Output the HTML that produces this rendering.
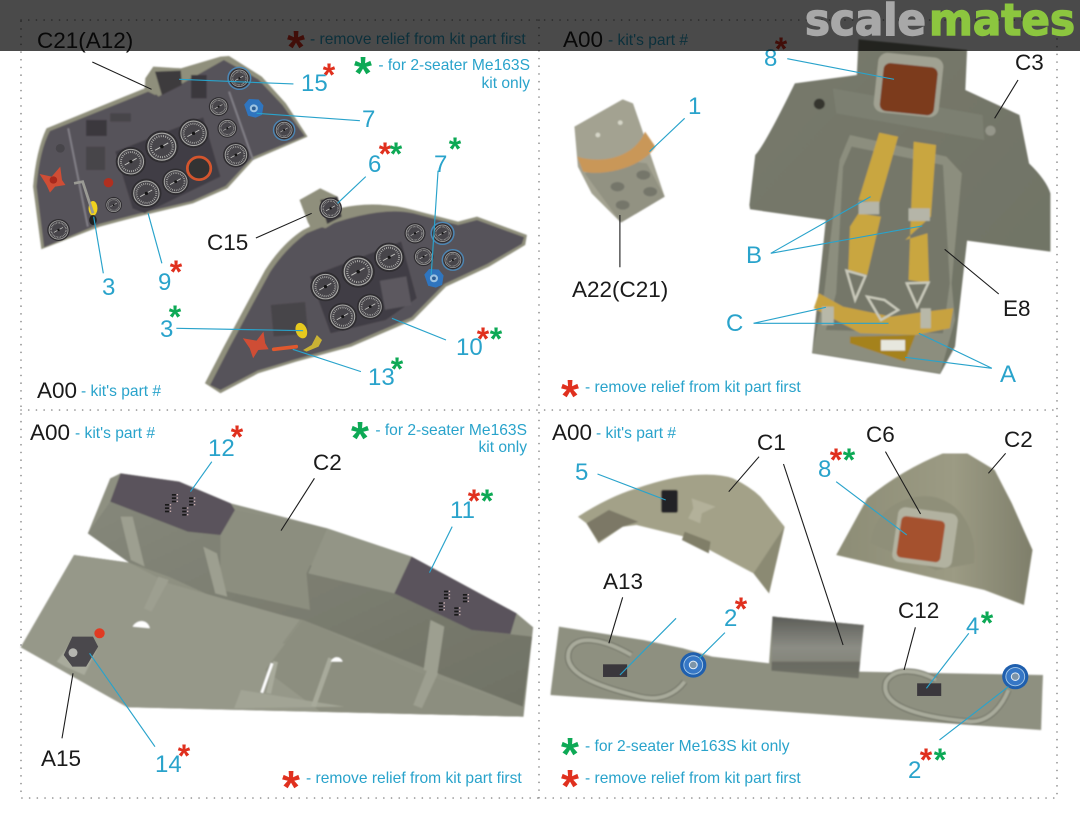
<!DOCTYPE html>
<html><head><meta charset="utf-8"><style>
html,body{margin:0;padding:0;background:#fff}
svg{display:block}
text{font-family:"Liberation Sans",sans-serif}
.k{font-size:22.5px;fill:#1a1a1a}
.b{font-size:24px;fill:#29a3cb}
.t{font-size:15.6px;fill:#29a3cb}
.r,.g,.R,.G{font-family:"Liberation Sans",sans-serif;font-weight:bold;text-anchor:middle}
.r{font-size:32px;fill:#e0301e}.g{font-size:32px;fill:#0da955}
.R{font-size:46px;fill:#e0301e}.G{font-size:46px;fill:#0da955}
.bl{stroke:#29a3cb;stroke-width:3.4;fill:none}
.bk{stroke:#1c1c1c;stroke-width:3.2;fill:none}
.d{stroke:#8a8a8a;stroke-width:1.6;stroke-dasharray:.1 7.6;stroke-linecap:round;fill:none}
</style></head><body>
<svg xmlns="http://www.w3.org/2000/svg" width="1080" height="819" viewBox="0 0 1080 819">
<defs>
<filter id="f" x="-5%" y="-5%" width="110%" height="110%"><feGaussianBlur stdDeviation="2.6"/></filter>
<linearGradient id="seat" x1="0" y1="0" x2="1" y2="1"><stop offset="0" stop-color="#77796b"/><stop offset="1" stop-color="#6f7264"/></linearGradient>
<linearGradient id="box" x1="0" y1="0" x2="0" y2="1"><stop offset="0" stop-color="#5c5d58"/><stop offset=".5" stop-color="#8c8d85"/><stop offset=".72" stop-color="#85867c"/><stop offset=".74" stop-color="#6a6b62"/><stop offset="1" stop-color="#6f7066"/></linearGradient>
<linearGradient id="dome" x1="0" y1="0" x2="1" y2="0"><stop offset="0" stop-color="#8d8d76"/><stop offset=".6" stop-color="#9c9b84"/><stop offset="1" stop-color="#7f7f6b"/></linearGradient>
<linearGradient id="side" x1="0" y1="0" x2="1" y2="1"><stop offset="0" stop-color="#85877a"/><stop offset="1" stop-color="#6f7164"/></linearGradient>
<g id="g"><circle r="1.1" fill="#2f2d31"/><circle r=".92" fill="#47454a" stroke="#a9a9a6" stroke-width=".08"/><circle r=".72" fill="none" stroke="#c2c2be" stroke-width=".14" stroke-dasharray=".05 .1"/><path d="M-.45 .25L.42 -.25" stroke="#c6c6c2" stroke-width=".07"/><circle r=".12" fill="#151515"/></g>
<g id="u"><circle r="1.1" fill="none" stroke="#4b87b6" stroke-width=".14"/><use href="#g" transform="scale(.9)"/></g>
<g id="knob"><path d="M-1 -.4L-.5 -1L.5 -.95L1 -.3L.85 .7L.2 1L-.6 .8Z" fill="#2f75bf"/><circle r=".42" fill="#9cc3e2"/><circle r=".2" fill="#2c5f96"/></g>
<g id="disc"><circle r="1" fill="#1f5fae"/><circle r=".72" fill="#3677c6" stroke="#a9cbe8" stroke-width=".07"/><circle r=".3" fill="#7d94a8" stroke="#e3edf5" stroke-width=".08"/></g>
<g id="sw"><rect x="-16" y="-13" width="12" height="5" fill="#191919"/><rect x="-16" y="-3" width="12" height="5" fill="#191919"/><rect x="-16" y="7" width="12" height="5" fill="#191919"/><rect x="-2" y="-13" width="4" height="4" fill="#cbb0b0"/><rect x="-2" y="-3" width="4" height="4" fill="#cbb0b0"/><rect x="-2" y="7" width="4" height="4" fill="#cbb0b0"/></g>
</defs>
<rect width="1080" height="819" fill="#fff"/>

<!-- Quadrant 1 -->
<g transform="scale(.3444 .3333)">
<g filter="url(#f)">
<path d="M120 748L96 560Q105 450 135 385L420 265L422 235L445 200L525 205L640 170L665 168L760 230L830 310L893 410L735 480L660 565L560 610L400 650L290 680Z" fill="#8f8f7b"/>
<path d="M128 742L106 560Q115 450 145 393L430 275L450 285L530 250L650 180L750 238L820 315L885 408L733 472L655 558L558 603L400 642L288 672Z" fill="#57525a"/>
<path d="M422 235L445 202L525 205L530 250L460 290L442 270Z" fill="#8f8f7c"/>
<path d="M450 215L525 212L528 255L470 285Z" fill="#3c3a3e"/>
<path d="M335 455L590 352L640 530L420 640L385 625Z" fill="#413e44"/>
<rect x="250" y="360" width="60" height="48" fill="#3a383d"/><rect x="250" y="440" width="55" height="70" fill="#47444a"/><rect x="555" y="225" width="45" height="70" fill="#3a383d"/><rect x="320" y="340" width="60" height="25" fill="#47444a"/>
<path d="M665 275L735 480M198 385L255 680" stroke="#85838a" stroke-width="5" fill="none"/>
</g>
<use href="#g" transform="translate(380 485) scale(40)"/><use href="#g" transform="translate(470 440) scale(44)"/><use href="#g" transform="translate(562 400) scale(40)"/><use href="#g" transform="translate(425 580) scale(40)"/><use href="#g" transform="translate(510 545) scale(36)"/><circle cx="578" cy="505" r="34" fill="#333" stroke="#d4552d" stroke-width="8"/><use href="#g" transform="translate(635 320) scale(26)"/><use href="#g" transform="translate(660 385) scale(26)"/><use href="#g" transform="translate(685 465) scale(34)"/><use href="#u" transform="translate(695 235) scale(30)"/><use href="#u" transform="translate(825 390) scale(28)"/><use href="#g" transform="translate(330 615) scale(22)"/><use href="#g" transform="translate(170 690) scale(30)"/><circle cx="175" cy="445" r="13" fill="#47454a"/>
<use href="#knob" transform="translate(737 325) scale(28)"/>
<path d="M115 522L150 530L175 500L180 540L190 555L160 560L145 578L135 555Z" fill="#cf4d35"/><circle cx="155" cy="540" r="11" fill="#a8291c"/>
<circle cx="315" cy="548" r="14" fill="#b03020"/><ellipse cx="270" cy="625" rx="13" ry="22" fill="#f0d21e"/><ellipse cx="270" cy="660" rx="11" ry="15" fill="#222"/>
<path d="M215 550L240 545L270 640" stroke="#9a9a94" stroke-width="8" fill="none"/>

<g filter="url(#f)">
<path d="M595 1150L650 1040L720 905L770 810Q820 730 880 690L900 680L870 600L930 565L985 625Q1090 600 1200 630L1330 665L1385 650L1530 705L1525 735L1420 800L1295 860L1200 960L1020 1040L860 1085L750 1120L640 1180Z" fill="#8f8f7b"/>
<path d="M610 1155L665 1045L735 910L785 815Q830 745 890 700Q1090 615 1200 640L1330 675L1385 660L1522 712L1515 732L1415 792L1290 852L1195 952L1016 1032L858 1078L748 1112L640 1170Z" fill="#57525a"/>
<path d="M870 600L930 565L980 590L1000 650L945 685L895 670Z" fill="#8f8f7c"/>
<path d="M930 600L980 590L992 650L950 672Z" fill="#3a383c"/>
<path d="M900 830L1165 725L1210 895L1120 960L960 1000Z" fill="#413e44"/>
<rect x="1110" y="835" width="78" height="88" fill="#5c585f" transform="rotate(-10 1150 880)"/>
<rect x="790" y="910" width="100" height="95" fill="#47444a" transform="rotate(-5 845 955)"/>
</g>
<use href="#g" transform="translate(945 860) scale(40)"/><use href="#g" transform="translate(1040 815) scale(44)"/><use href="#g" transform="translate(1130 772) scale(40)"/><use href="#g" transform="translate(995 950) scale(38)"/><use href="#g" transform="translate(1075 920) scale(35)"/><use href="#g" transform="translate(1205 700) scale(28)"/><use href="#u" transform="translate(1285 700) scale(30)"/><use href="#g" transform="translate(1230 770) scale(26)"/><use href="#u" transform="translate(1315 780) scale(28)"/><use href="#g" transform="translate(960 625) scale(30)"/>
<use href="#knob" transform="translate(1260 835) scale(28)"/>
<path d="M705 1015L745 1022L765 995L770 1030L780 1048L750 1050L735 1075L725 1045Z" fill="#cf4d35"/>
<ellipse cx="875" cy="992" rx="16" ry="24" fill="#e6c91e" transform="rotate(-20 875 992)"/>
<path d="M880 1050L905 1035L920 1005L935 1020L925 1040L890 1055Z" fill="#c9b234"/>
<path d="M795 1048L860 1040" stroke="#e0582e" stroke-width="11" stroke-linecap="round"/>

<path class="bk" d="M268 186L440 268M743 714L905 640"/>
<path class="bl" d="M520 238L852 252M745 340L1045 362M272 650L300 820M430 640L470 790M1062 530L980 610M1272 512L1252 825M512 985L880 992M1138 955L1295 1020M850 1048L1048 1115"/>
</g>

<!-- Quadrant 2 -->
<g transform="translate(540 0) scale(.3444 .3333)">
<g filter="url(#f)">
<path d="M100 380L240 298L270 310L300 400L362 590L235 668L150 580L110 500Z" fill="#a3a291"/>
<path d="M130 520L230 480L310 490L362 590L235 668Z" fill="#929282"/>
<path d="M108 470C170 490 270 480 305 395L335 440C300 500 190 530 125 515Z" fill="#c99758"/>
<ellipse cx="225" cy="560" rx="20" ry="14" fill="#75766a"/><ellipse cx="300" cy="525" rx="20" ry="14" fill="#75766a"/><ellipse cx="320" cy="575" rx="20" ry="14" fill="#75766a"/><ellipse cx="240" cy="615" rx="20" ry="14" fill="#75766a"/>
<circle cx="168" cy="405" r="7" fill="#d6d6c8"/><circle cx="233" cy="368" r="7" fill="#d6d6c8"/>

<path d="M608 615L625 465Q650 440 740 250L920 225L925 118L1240 150L1235 270L1392 345L1420 490Q1470 540 1482 580L1482 755L1240 722L1205 1040L1162 1122L790 1060L830 660L610 628Z" fill="url(#seat)"/>
<path d="M850 265L1285 345L1290 420L860 340Z" fill="#7c7f71"/>
<path d="M900 405L1180 470L1225 520L1195 850L1205 960L1162 1120L790 1058L825 880L870 480Z" fill="#8c8e7e"/>
<path d="M905 440L1170 495L1190 850L1170 1000L830 990L860 880L880 500Z" fill="#747769"/>
<rect x="975" y="165" width="190" height="180" rx="28" fill="#a0a192" transform="rotate(6 1070 255)"/>
<rect x="992" y="195" width="158" height="145" rx="20" fill="#7c3a1f" transform="rotate(6 1070 265)"/>
<circle cx="811" cy="312" r="16" fill="#35362f"/>
<circle cx="1308" cy="392" r="15" fill="#95968a"/>
<path d="M985 398L1040 410L985 610L925 600Z" fill="#c9a640"/>
<path d="M1085 425L1150 435L1135 650L1060 720L1125 700L1130 850L1070 840Z" fill="#c9a640"/>
<path d="M925 640L990 650L950 825L895 810L900 680Z" fill="#c9a640"/>
<path d="M890 812L945 828L915 900Z M1065 850L1128 848L1095 920Z" fill="none" stroke="#c9c9ba" stroke-width="7"/>
<rect x="925" y="605" width="60" height="38" fill="#b5b5a8"/><rect x="1070" y="625" width="62" height="38" fill="#b5b5a8"/>
<path d="M795 925L810 880L880 920L1020 950L1120 935L1200 925L1190 985L1090 1005L930 1000Z" fill="#c7a23f"/>
<path d="M900 1010L1090 1005L1060 1085L900 1030Z" fill="#a5821f"/>
<rect x="990" y="1020" width="70" height="32" fill="#e7e7de"/>
<path d="M950 890L1000 900L1040 930L990 960Z" fill="none" stroke="#c9c9ba" stroke-width="7"/>
<rect x="818" y="920" width="35" height="55" fill="#b8b8a8"/><rect x="1105" y="925" width="30" height="60" fill="#b8b8a8"/>
</g>
<path class="bk" d="M1388 240L1320 355M1175 748L1332 882M232 645L232 802"/>
<path class="bl" d="M718 176L1028 238M420 355L318 455M670 760L960 590M670 760L1110 678M620 970L830 922M620 970L1012 970M1312 1105L1100 1000M1312 1105L1060 1072"/>
</g>

<!-- Quadrant 3 -->
<g transform="translate(0 410) scale(.3444 .3333)">
<g filter="url(#f)">
<path d="M60 712L215 435L375 458L255 370L320 205L350 190L520 215L670 280L950 355L1195 440L1500 610L1548 652L1520 920L370 892Z" fill="#8e9081"/>
<path d="M255 370L320 275L640 375L1145 550L1370 660L1545 680L1518 890L1270 790L880 630L660 580L490 500L375 458Z" fill="url(#side)"/>
<path d="M640 375L680 300L950 355L890 490L900 600L640 540Z" fill="#8c8e7f"/>
<path d="M950 355L1195 440L1145 550L895 490Z" fill="#939586"/>
<path d="M60 712L215 435L375 458L490 520L870 630L820 700L1518 890L1520 920L370 892Z" fill="#969889"/>
<path d="M880 630L1210 785L1518 890L1520 920L930 905L770 780Z" fill="#8c8e7f"/>
<path d="M350 320L380 450L420 470L385 320ZM590 410L630 430L660 560L625 550ZM1250 630L1290 650L1270 790L1230 780ZM460 500L490 510L440 605L418 595ZM1240 780L1272 790L1225 895L1200 885Z" fill="#9d9f90"/>
<path d="M350 190L520 215L670 280L682 300L640 375L545 365L320 275Z" fill="#5a535c"/>
<path d="M1195 440L1500 610L1482 672L1370 660L1145 550Z" fill="#5a535c"/>
<path d="M700 840L1000 890L680 895Z" fill="#a2a495"/>
<path d="M800 755L780 850M960 745L910 890" stroke="#a8aa9b" stroke-width="14"/>
<path d="M790 760L760 848" stroke="#fff" stroke-width="8"/>
<path d="M385 650C400 625 430 630 435 655Z" fill="#fff"/><path d="M960 755C970 735 990 740 995 755Z" fill="#fff"/>
<path d="M165 755L220 680L280 720L245 795L190 770Z" fill="#a9ab9c"/>
</g>
<use href="#sw" transform="translate(515 265)"/><use href="#sw" transform="translate(495 295)"/><use href="#sw" transform="translate(565 275)"/><use href="#sw" transform="translate(545 305)"/>
<use href="#sw" transform="translate(1305 555)"/><use href="#sw" transform="translate(1290 590)"/><use href="#sw" transform="translate(1360 565)"/><use href="#sw" transform="translate(1335 605)"/>
<path d="M210 680L270 680L285 710L250 770L210 770L185 735Z" fill="#4a484c"/>
<circle cx="212" cy="728" r="13" fill="#b5b5b0"/><circle cx="289" cy="670" r="15" fill="#e03a22"/>
<path class="bk" d="M913 205L816 362M212 790L180 985"/>
<path class="bl" d="M615 155L553 245M1313 350L1247 488M260 730L450 1010"/>
</g>

<!-- Quadrant 4 -->
<g transform="translate(540 410) scale(.3444 .3333)">
<g filter="url(#f)">
<path d="M110 320Q200 260 280 235Q380 200 450 195Q520 190 560 205Q610 230 640 260L710 350L665 550L620 490L420 380L280 345L240 350L170 400L135 340Z" fill="#a3a188"/>
<path d="M620 490L710 350L665 550Z" fill="#8b8a73"/>
<path d="M200 300L285 335L240 350L170 395L135 340Z" fill="#7b7866"/>
<path d="M420 365L495 395L490 430L412 390Z" fill="#807e68"/>
<path d="M440 265L510 290L470 310L465 340L430 325L445 295Z" fill="#b3b19a"/>
<rect x="352" y="240" width="48" height="68" rx="6" fill="#232126"/>
<path d="M860 435L950 265Q1050 180 1170 130L1240 130L1320 180L1370 280L1430 420L1405 585L1290 540Z" fill="url(#dome)"/>
<path d="M960 400C970 290 1070 250 1140 260C1240 280 1270 390 1260 460L1150 480Z" fill="#8f8f79"/>
<rect x="1030" y="300" width="175" height="165" rx="22" fill="#b2b2a0" transform="rotate(8 1115 385)"/>
<rect x="1042" y="325" width="128" height="125" rx="14" fill="#a5512f" transform="rotate(8 1105 385)"/>
<path d="M55 650L300 690L415 715L500 740L665 760L675 620L940 645L925 785L1460 795L1455 960L30 855Z" fill="#8e9080"/>
<path d="M675 620L940 645L925 805L672 782Z" fill="url(#box)"/>
<path d="M265 735C190 690 110 670 85 720C60 790 170 830 290 860C350 875 395 850 420 815" fill="none" stroke="#6f7164" stroke-width="18"/>
<path d="M265 735C190 690 110 670 85 720C60 790 170 830 290 860C350 875 395 850 420 815" fill="none" stroke="#a9ab9b" stroke-width="12"/>
<path d="M1150 810C1100 780 1030 770 1005 815C985 880 1080 920 1250 935C1310 935 1345 880 1360 840" fill="none" stroke="#6f7164" stroke-width="18"/>
<path d="M1150 810C1100 780 1030 770 1005 815C985 880 1080 920 1250 935C1310 935 1345 880 1360 840" fill="none" stroke="#a9ab9b" stroke-width="12"/>
</g>
<rect x="183" y="763" width="70" height="38" fill="#3a373c"/><rect x="1095" y="820" width="70" height="38" fill="#3a373c"/>
<use href="#disc" transform="translate(445 765) scale(38)"/><use href="#disc" transform="translate(1380 800) scale(38)"/>
<path class="bk" d="M636 140L548 245M707 162L880 705M1003 125L1105 312M1352 130L1302 190M240 562L200 700M1090 652L1057 780"/>
<path class="bl" d="M167 192L365 270M860 215L1065 375M395 625L232 795M537 668L462 745M1245 670L1122 835M1160 990L1360 830"/>
</g>

<!-- Dotted frame -->
<path class="d" d="M21 20H1057V798H21ZM539 20V798M21 410H1057"/>

<!-- Q1 text -->
<text class="k" x="37" y="48">C21(A12)</text>
<text class="R" x="296" y="63">*</text>
<text class="t" x="310" y="44">- remove relief from kit part first</text>
<text class="G" x="363" y="89">*</text>
<text class="t" x="530" y="70" text-anchor="end">- for 2-seater Me163S</text>
<text class="t" x="530" y="88" text-anchor="end">kit only</text>
<text class="b" x="301" y="91">15</text><text class="r" x="329" y="86">*</text>
<text class="b" x="362" y="127">7</text>
<text class="b" x="368" y="172">6</text><text class="r" x="385" y="165">*</text><text class="g" x="396" y="165">*</text>
<text class="b" x="434" y="172">7</text><text class="g" x="455" y="160">*</text>
<text class="b" x="102" y="295">3</text>
<text class="b" x="158" y="290">9</text><text class="r" x="176" y="283">*</text>
<text class="k" x="207" y="250">C15</text>
<text class="b" x="160" y="337">3</text><text class="g" x="175" y="328">*</text>
<text class="b" x="456" y="355">10</text><text class="r" x="483" y="350">*</text><text class="g" x="496" y="350">*</text>
<text class="b" x="368" y="385">13</text><text class="g" x="397" y="380">*</text>
<text class="k" x="37" y="398">A00</text><text class="t" x="81" y="396">- kit's part #</text>

<!-- Q2 text -->
<text class="k" x="563" y="47">A00</text><text class="t" x="608" y="45">- kit's part #</text>
<text class="b" x="764" y="66">8</text><text class="r" x="781" y="60">*</text>
<text class="k" x="1015" y="70">C3</text>
<text class="b" x="688" y="114">1</text>
<text class="k" x="572" y="297">A22(C21)</text>
<text class="b" x="746" y="263">B</text>
<text class="b" x="726" y="331">C</text>
<text class="k" x="1003" y="316">E8</text>
<text class="b" x="1000" y="382">A</text>
<text class="R" x="570" y="412">*</text><text class="t" x="585" y="392">- remove relief from kit part first</text>

<!-- Q3 text -->
<text class="k" x="30" y="440">A00</text><text class="t" x="75" y="438">- kit's part #</text>
<text class="b" x="208" y="456">12</text><text class="r" x="237" y="448">*</text>
<text class="k" x="313" y="470">C2</text>
<text class="G" x="360" y="454">*</text><text class="t" x="527" y="435" text-anchor="end">- for 2-seater Me163S</text><text class="t" x="527" y="452" text-anchor="end">kit only</text>
<text class="b" x="450" y="518">11</text><text class="r" x="474" y="512">*</text><text class="g" x="487" y="512">*</text>
<text class="k" x="41" y="766">A15</text>
<text class="b" x="155" y="772">14</text><text class="r" x="184" y="767">*</text>
<text class="R" x="291" y="803">*</text><text class="t" x="306" y="783">- remove relief from kit part first</text>

<!-- Q4 text -->
<text class="k" x="552" y="440">A00</text><text class="t" x="596" y="438">- kit's part #</text>
<text class="k" x="757" y="450">C1</text>
<text class="k" x="866" y="442">C6</text>
<text class="k" x="1004" y="447">C2</text>
<text class="b" x="818" y="477">8</text><text class="r" x="836" y="471">*</text><text class="g" x="849" y="471">*</text>
<text class="b" x="575" y="480">5</text>
<text class="k" x="603" y="589">A13</text>
<text class="b" x="724" y="626">2</text><text class="r" x="741" y="620">*</text>
<text class="k" x="898" y="618">C12</text>
<text class="b" x="966" y="634">4</text><text class="g" x="987" y="634">*</text>
<text class="b" x="908" y="778">2</text><text class="r" x="926" y="771">*</text><text class="g" x="940" y="771">*</text>
<text class="G" x="570" y="770">*</text><text class="t" x="585" y="751">- for 2-seater Me163S kit only</text>
<text class="R" x="570" y="802">*</text><text class="t" x="585" y="783">- remove relief from kit part first</text>

<!-- Header band -->
<rect x="0" y="0" width="1080" height="51" fill="#4a4a4a" style="mix-blend-mode:multiply"/>
<text x="805" y="35" font-size="44" font-weight="bold" textLength="121" lengthAdjust="spacingAndGlyphs" stroke="#a8a8a8" stroke-width="1.4" style="font-family:'DejaVu Sans',sans-serif;fill:#a8a8a8">scale</text>
<text x="929" y="35" font-size="44" font-weight="bold" textLength="146" lengthAdjust="spacingAndGlyphs" stroke="#8cc63f" stroke-width="1.4" style="font-family:'DejaVu Sans',sans-serif;fill:#8cc63f">mates</text>
</svg>
</body></html>
